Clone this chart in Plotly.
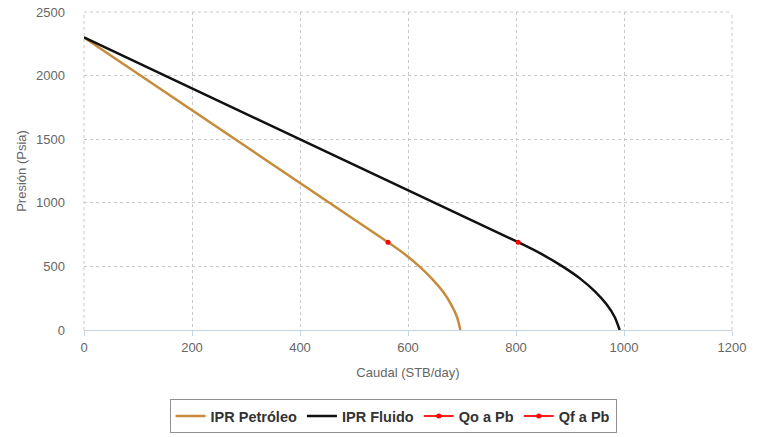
import plotly.graph_objects as go

# Hand-read values from the reference chart
oil_q = [0, 563, 593, 621, 645, 665, 680, 691, 697]
oil_p = [2300, 690, 600, 500, 400, 300, 200, 100, 0]
fluid_q = [0, 804, 846, 886, 920, 947, 968, 983, 992]
fluid_p = [2300, 690, 600, 500, 400, 300, 200, 100, 0]
qo_pb = [563]
qf_pb = [804]
pb = [690]

x_ticks = [0, 200, 400, 600, 800, 1000, 1200]
y_ticks = [0, 500, 1000, 1500, 2000, 2500]

fig = go.Figure()
fig.add_trace(go.Scatter(x=oil_q, y=oil_p, mode="lines", name="IPR Petróleo",
                         line=dict(color="#C68C3C", width=2.5, shape="spline", smoothing=0.6)))
fig.add_trace(go.Scatter(x=fluid_q, y=fluid_p, mode="lines", name="IPR Fluido",
                         line=dict(color="#111111", width=2.5, shape="spline", smoothing=0.6)))
fig.add_trace(go.Scatter(x=qo_pb, y=pb, mode="lines+markers", name="Qo a Pb",
                         line=dict(color="#FF2020", width=2), marker=dict(color="#FF0000", size=5)))
fig.add_trace(go.Scatter(x=qf_pb, y=pb, mode="lines+markers", name="Qf a Pb",
                         line=dict(color="#FF2020", width=2), marker=dict(color="#FF0000", size=5)))

grid = "#C8C8C8"
gdash = "3px,3px"
fig.update_layout(
    width=763, height=437,
    margin=dict(l=84, r=31, t=12, b=107, autoexpand=False),
    paper_bgcolor="white", plot_bgcolor="white",
    font=dict(family="Liberation Sans, Arial, sans-serif", size=12, color="#666666"),
    showlegend=True,
    legend=dict(orientation="h", x=0.477, xanchor="center", y=-0.217, yanchor="top",
                bordercolor="#909090", borderwidth=1,
                font=dict(size=14.5, color="#333333", weight="bold"),
                itemwidth=30, tracegroupgap=0),
    xaxis=dict(range=[0, 1200], tickvals=x_ticks, showgrid=True, gridcolor=grid,
               griddash=gdash, gridwidth=1, zeroline=False, automargin=False,
               showline=True, linecolor="#C6D4E4", linewidth=1,
               ticks="outside", ticklen=5, tickcolor="#C6D4E4",
               mirror=False, tickfont=dict(size=13),
               title=dict(text="Caudal (STB/day)", font=dict(size=13, color="#666666"), standoff=14)),
    yaxis=dict(range=[0, 2500], tickvals=y_ticks, showgrid=True, gridcolor=grid,
               griddash=gdash, gridwidth=1, zeroline=False, showline=False, automargin=False,
               ticks="", ticklabelstandoff=18, tickfont=dict(size=13),
               title=dict(text="Presión (Psia)", font=dict(size=13, color="#666666"), standoff=6)),
)
# dashed top/right borders and left line like grid
for (x0, x1, y0, y1) in [(0, 0, 0, 1), (1, 1, 0, 1), (0, 1, 1, 1)]:
    fig.add_shape(type="line", xref="paper", yref="paper", x0=x0, x1=x1, y0=y0, y1=y1,
                  line=dict(color=grid, width=1, dash=gdash), layer="below")

fig.write_html("out.html")
